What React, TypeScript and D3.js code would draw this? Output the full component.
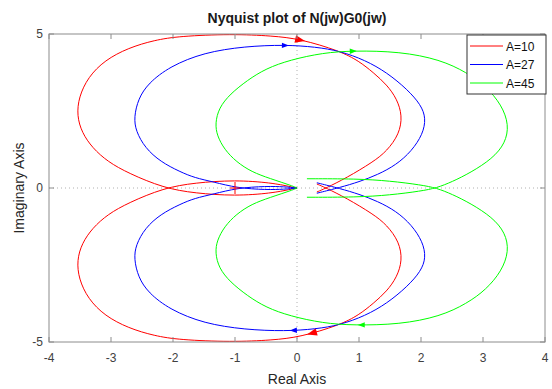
import React, { useEffect, useRef } from 'react';
import * as d3 from 'd3';

const realTicks = [-4, -3, -2, -1, 0, 1, 2, 3, 4];
const imagTicks = [-5, 0, 5];
const labels = ['A=10', 'A=27', 'A=45'];
const colors = ['#ff0000', '#0000ff', '#00ff00'];

// positive-frequency branch of each curve as [re, im]
const branchA10 = [
  [0, 0], [-0.1, -0.04], [-0.41, -0.17], [-1.0, -0.26], [-1.65, -0.17], [-2.15, 0.0],
  [-2.72, 0.48], [-3.05, 0.85], [-3.3, 1.3], [-3.47, 1.8], [-3.55, 2.35], [-3.52, 2.95],
  [-3.37, 3.6], [-3.1, 4.15], [-2.72, 4.55], [-2.3, 4.8], [-1.9, 4.93], [-1.05, 5.0],
  [-0.4, 4.94], [0.05, 4.84], [0.69, 4.45], [1.0, 4.12], [1.23, 3.75], [1.45, 3.35],
  [1.61, 2.9], [1.7, 2.35], [1.65, 1.75], [1.45, 1.2], [1.23, 0.85], [0.8, 0.33],
  [0.45, -0.02], [0.32, -0.13]
];
const branchA27 = [
  [0, 0], [-0.2, -0.04], [-0.49, -0.06], [-0.97, 0.0], [-1.35, 0.2], [-1.65, 0.33],
  [-1.89, 0.53], [-2.2, 0.85], [-2.45, 1.3], [-2.6, 1.85], [-2.63, 2.3], [-2.56, 2.9],
  [-2.4, 3.4], [-2.05, 3.95], [-1.5, 4.4], [-0.84, 4.6], [-0.19, 4.65], [0.3, 4.58],
  [0.69, 4.45], [1.1, 4.15], [1.45, 3.75], [1.78, 3.2], [2.0, 2.7], [2.08, 2.26],
  [2.03, 1.75], [1.85, 1.2], [1.6, 0.75], [1.3, 0.43], [1.0, 0.2], [0.7, 0.02],
  [0.32, -0.17]
];
const branchA45 = [
  [0, 0], [-0.06, 0.06], [-0.44, 0.31], [-0.73, 0.52], [-0.98, 0.85], [-1.17, 1.25],
  [-1.29, 1.7], [-1.32, 2.1], [-1.26, 2.6], [-1.08, 3.05], [-0.8, 3.5], [-0.5, 3.88],
  [-0.11, 4.16], [0.42, 4.39], [0.91, 4.46], [1.66, 4.43], [2.31, 4.17], [2.74, 3.75],
  [3.05, 3.3], [3.3, 2.7], [3.42, 2.05], [3.36, 1.45], [3.15, 0.95], [2.8, 0.5],
  [2.5, 0.2], [2.25, 0.0], [2.0, -0.1], [1.5, -0.23], [0.96, -0.3], [0.16, -0.3]
];
const branches = [branchA10, branchA27, branchA45];

// real part where the direction arrows sit, upper and lower half
const arrowUpper = [0.05, -0.19, 0.91];
const arrowLower = [0.24, -0.06, 1.04];
const arrowSize = [10, 7, 7];

const W = 552;
const H = 389;

const App = () => {
  const ref = useRef(null);

  useEffect(() => {
    const svg = d3.select(ref.current);
    svg.selectAll('*').remove();

    const x = d3.scaleLinear().domain([-4, 4]).range([49, 545]);
    const y = d3.scaleLinear().domain([-5, 5]).range([342, 34]);
    const axisColor = '#8c8c8c';
    const font = 'Liberation Sans, Arial, sans-serif';

    svg.append('rect').attr('width', W).attr('height', H).attr('fill', '#fff');

    // dotted zero lines
    svg.append('line')
      .attr('x1', x(0)).attr('x2', x(0)).attr('y1', y(5)).attr('y2', y(-5))
      .attr('stroke', '#b0b0b0').attr('stroke-dasharray', '1,3');
    svg.append('line')
      .attr('x1', x(-4)).attr('x2', x(4)).attr('y1', y(0)).attr('y2', y(0))
      .attr('stroke', '#b0b0b0').attr('stroke-dasharray', '1,3');

    const line = d3.line()
      .x(d => x(d[0]))
      .y(d => y(d[1]))
      .curve(d3.curveBasis);

    const plot = svg.append('g');

    branches.forEach((b, i) => {
      const upper = plot.append('path')
        .attr('d', line(b))
        .attr('fill', 'none')
        .attr('stroke', colors[i])
        .attr('stroke-width', 1);
      const lower = plot.append('path')
        .attr('d', line(b.map(p => [p[0], -p[1]])))
        .attr('fill', 'none')
        .attr('stroke', colors[i])
        .attr('stroke-width', 1);

      const addArrow = (node, re, top, flip) => {
        const len = node.getTotalLength();
        const tx = x(re);
        let best = 0;
        let bestD = Infinity;
        for (let s = 0; s < len; s += 0.5) {
          const p = node.getPointAtLength(s);
          const inHalf = top ? p.y < y(3) : p.y > y(-3);
          if (!inHalf) continue;
          const d = Math.abs(p.x - tx);
          if (d < bestD) { bestD = d; best = s; }
        }
        const p0 = node.getPointAtLength(Math.max(0, best - 1));
        const p1 = node.getPointAtLength(Math.min(len, best + 1));
        let dx = p1.x - p0.x;
        let dy = p1.y - p0.y;
        const n = Math.hypot(dx, dy) || 1;
        dx /= n; dy /= n;
        if (flip) { dx = -dx; dy = -dy; }
        const c = node.getPointAtLength(best);
        const sz = arrowSize[i];
        const tip = [c.x + dx * sz * 0.5, c.y + dy * sz * 0.5];
        const bx = c.x - dx * sz * 0.5;
        const by = c.y - dy * sz * 0.5;
        const h = sz * 0.38;
        plot.append('polygon')
          .attr('points', [tip, [bx - dy * h, by + dx * h], [bx + dy * h, by - dx * h]]
            .map(q => q.join(',')).join(' '))
          .attr('fill', colors[i]);
      };
      addArrow(upper.node(), arrowUpper[i], true, false);
      addArrow(lower.node(), arrowLower[i], false, true);
    });

    // critical point marker
    plot.append('path')
      .attr('d', `M${x(-1) - 5},${y(0)}H${x(-1) + 5}M${x(-1)},${y(0) - 6}V${y(0) + 6}`)
      .attr('stroke', '#ff0000').attr('stroke-width', 1);

    // box and ticks
    svg.append('rect')
      .attr('x', x(-4)).attr('y', y(5))
      .attr('width', x(4) - x(-4)).attr('height', y(-5) - y(5))
      .attr('fill', 'none').attr('stroke', axisColor);

    realTicks.forEach(t => {
      svg.append('line').attr('x1', x(t)).attr('x2', x(t)).attr('y1', y(-5)).attr('y2', y(-5) - 5)
        .attr('stroke', axisColor);
      svg.append('line').attr('x1', x(t)).attr('x2', x(t)).attr('y1', y(5)).attr('y2', y(5) + 5)
        .attr('stroke', axisColor);
      svg.append('text').attr('x', x(t)).attr('y', y(-5) + 20)
        .attr('text-anchor', 'middle').attr('font-family', font).attr('font-size', 12)
        .attr('fill', '#404040').text(t);
    });
    imagTicks.forEach(t => {
      svg.append('line').attr('x1', x(-4)).attr('x2', x(-4) + 5).attr('y1', y(t)).attr('y2', y(t))
        .attr('stroke', axisColor);
      svg.append('line').attr('x1', x(4)).attr('x2', x(4) - 5).attr('y1', y(t)).attr('y2', y(t))
        .attr('stroke', axisColor);
      svg.append('text').attr('x', x(-4) - 6).attr('y', y(t) + 4)
        .attr('text-anchor', 'end').attr('font-family', font).attr('font-size', 12)
        .attr('fill', '#404040').text(t);
    });

    svg.append('text').attr('x', x(0)).attr('y', 23)
      .attr('text-anchor', 'middle').attr('font-family', font).attr('font-size', 14)
      .attr('font-weight', 'bold').attr('fill', '#1a1a1a').text('Nyquist plot of N(jw)G0(jw)');
    svg.append('text').attr('x', x(0)).attr('y', 384)
      .attr('text-anchor', 'middle').attr('font-family', font).attr('font-size', 14)
      .attr('fill', '#262626').text('Real Axis');
    svg.append('text').attr('transform', `translate(24,${y(0)}) rotate(-90)`)
      .attr('text-anchor', 'middle').attr('font-family', font).attr('font-size', 14)
      .attr('fill', '#262626').text('Imaginary Axis');

    // legend
    const lg = svg.append('g');
    lg.append('rect').attr('x', 467).attr('y', 35).attr('width', 79).attr('height', 59)
      .attr('fill', '#fff').attr('stroke', '#333');
    labels.forEach((l, i) => {
      const ly = 46 + i * 18.5;
      lg.append('line').attr('x1', 470).attr('x2', 503).attr('y1', ly).attr('y2', ly)
        .attr('stroke', colors[i]);
      lg.append('text').attr('x', 506).attr('y', ly + 4.5)
        .attr('font-family', font).attr('font-size', 12).attr('fill', '#111').text(l);
    });
  }, []);

  return (
    <svg
      ref={ref}
      width={W}
      height={H}
      style={{ position: 'absolute', left: 0, top: 0 }}
    />
  );
};

export default App;
